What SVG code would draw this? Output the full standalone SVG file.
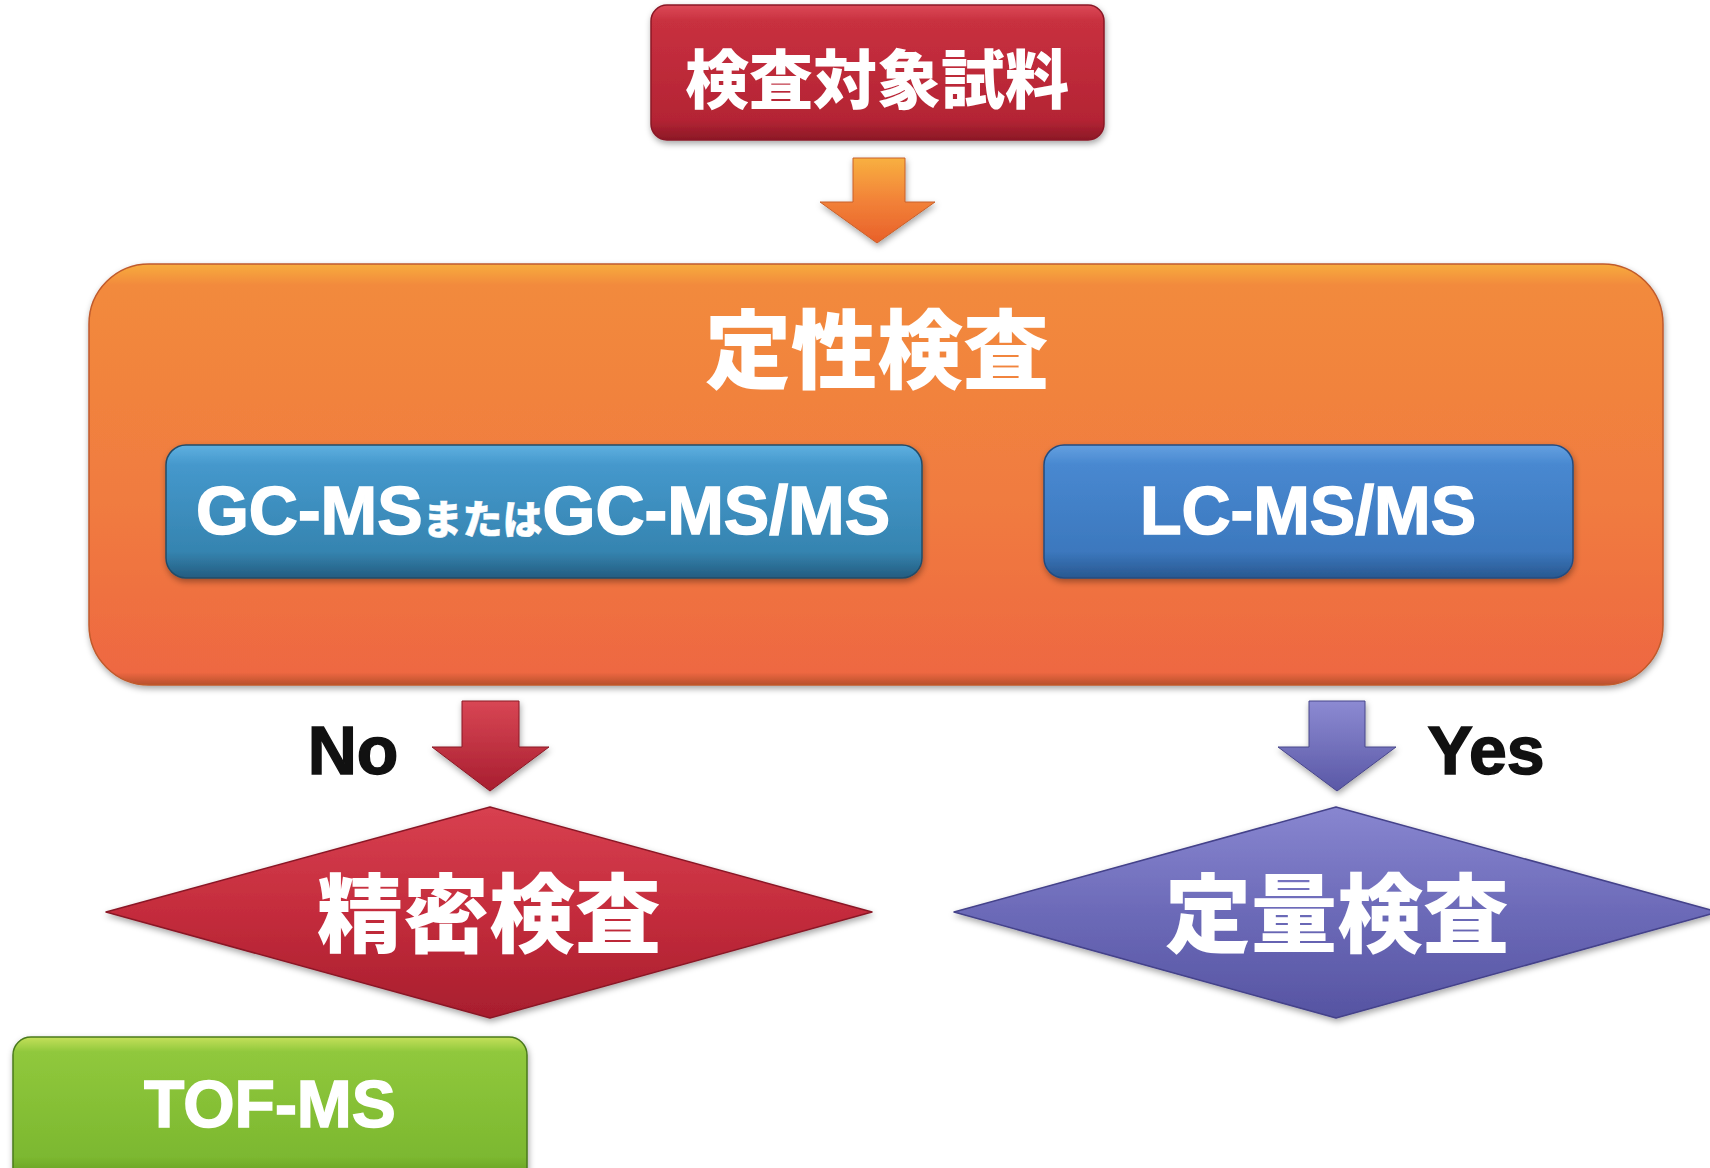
<svg xmlns="http://www.w3.org/2000/svg" width="1710" height="1168" viewBox="0 0 1710 1168">
<defs>
<style>
.jp{font-family:"Noto Sans CJK JP","Noto Sans CJK SC",sans-serif;font-weight:900;fill:#ffffff;text-anchor:middle;dominant-baseline:central}
.en{font-family:"Liberation Sans",Arial,sans-serif;font-weight:bold;fill:#ffffff;stroke:#ffffff;stroke-width:1.5;text-anchor:middle}
.lbl{font-family:"Liberation Sans",Arial,sans-serif;font-weight:bold;fill:#111111;stroke:#111111;stroke-width:1.5;text-anchor:middle;font-size:68px}
.sh{filter:url(#shadow)}
</style>
<filter id="shadow" x="-10%" y="-10%" width="120%" height="130%">
<feDropShadow dx="1" dy="3" stdDeviation="3" flood-color="#000" flood-opacity="0.35"/>
</filter>
<linearGradient id="gRed" x1="0" y1="0" x2="0" y2="1">
<stop offset="0" stop-color="#dc4a58"/><stop offset="0.12" stop-color="#c8303f"/><stop offset="0.85" stop-color="#b42434"/><stop offset="1" stop-color="#8c1826"/>
</linearGradient>
<linearGradient id="gOrange" x1="0" y1="0" x2="0" y2="1">
<stop offset="0" stop-color="#f7ac3c"/><stop offset="0.05" stop-color="#f28a3c"/><stop offset="0.6" stop-color="#f07a40"/><stop offset="0.97" stop-color="#ee6842"/><stop offset="1" stop-color="#b8502c"/>
</linearGradient>
<linearGradient id="gGC" x1="0" y1="0" x2="0" y2="1">
<stop offset="0" stop-color="#5fb0e0"/><stop offset="0.15" stop-color="#4598cc"/><stop offset="0.8" stop-color="#3584b0"/><stop offset="1" stop-color="#245c80"/>
</linearGradient>
<linearGradient id="gLC" x1="0" y1="0" x2="0" y2="1">
<stop offset="0" stop-color="#64a0e0"/><stop offset="0.15" stop-color="#4888d0"/><stop offset="0.8" stop-color="#3c78be"/><stop offset="1" stop-color="#285890"/>
</linearGradient>
<linearGradient id="gGreen" x1="0" y1="0" x2="0" y2="1">
<stop offset="0" stop-color="#c4e05a"/><stop offset="0.1" stop-color="#90c83c"/><stop offset="0.8" stop-color="#7cb830"/><stop offset="1" stop-color="#5a9020"/>
</linearGradient>
<linearGradient id="gRedD" x1="0" y1="0" x2="0" y2="1">
<stop offset="0" stop-color="#d84050"/><stop offset="0.5" stop-color="#c42c3c"/><stop offset="1" stop-color="#a81e2e"/>
</linearGradient>
<linearGradient id="gPurD" x1="0" y1="0" x2="0" y2="1">
<stop offset="0" stop-color="#8886d0"/><stop offset="0.5" stop-color="#6c6ab8"/><stop offset="1" stop-color="#5654a2"/>
</linearGradient>
<linearGradient id="aOrange" x1="0" y1="0" x2="0" y2="1">
<stop offset="0" stop-color="#f8b040"/><stop offset="0.5" stop-color="#f28238"/><stop offset="1" stop-color="#e8602a"/>
</linearGradient>
<linearGradient id="aRed" x1="0" y1="0" x2="0" y2="1">
<stop offset="0" stop-color="#d84654"/><stop offset="1" stop-color="#a81e30"/>
</linearGradient>
<linearGradient id="aPur" x1="0" y1="0" x2="0" y2="1">
<stop offset="0" stop-color="#8c8ad2"/><stop offset="1" stop-color="#5a58a6"/>
</linearGradient>
</defs>
<rect width="1710" height="1168" fill="#ffffff"/>

<g id="connectors">
<polygon class="sh" points="853,158 905,158 905,202 935,202 877,243 820,202 853,202" fill="url(#aOrange)" stroke="#c8602a" stroke-width="1"/>
<polygon class="sh" points="462,701 519,701 519,747 549,747 490,791 432,747 462,747" fill="url(#aRed)" stroke="#8a1a26" stroke-width="1"/>
<polygon class="sh" points="1309,701 1365,701 1365,747 1396,747 1337,791 1278,747 1309,747" fill="url(#aPur)" stroke="#48468a" stroke-width="1"/>
<text class="lbl" x="353" y="774">No</text>
<text class="lbl" x="1486" y="774">Yes</text>
</g>

<g id="node-sample">
<rect class="sh" x="651" y="5" width="453" height="135" rx="16" fill="url(#gRed)" stroke="#8a1826" stroke-width="1.5"/>
<text class="jp" x="877" y="75" font-size="64">検査対象試料</text>
</g>

<g id="node-qualitative">
<rect class="sh" x="89" y="264" width="1574" height="421" rx="60" fill="url(#gOrange)" stroke="#c05a2c" stroke-width="1.5"/>
<text class="jp" x="877" y="344" font-size="86">定性検査</text>
</g>

<g id="node-gcms">
<rect class="sh" x="166" y="445" width="756" height="133" rx="20" fill="url(#gGC)" stroke="#234c68" stroke-width="1.5"/>
<text class="en" x="543" y="534" font-size="68">GC-MS<tspan font-family="'Noto Sans CJK JP','Noto Sans CJK SC',sans-serif" font-weight="900" font-size="40" stroke-width="0.5">または</tspan>GC-MS/MS</text>
</g>

<g id="node-lcms">
<rect class="sh" x="1044" y="445" width="529" height="133" rx="20" fill="url(#gLC)" stroke="#244c80" stroke-width="1.5"/>
<text class="en" x="1308" y="534" font-size="68">LC-MS/MS</text>
</g>

<g id="node-precise">
<polygon class="sh" points="490,807 872,912 490,1018 106,912" fill="url(#gRedD)" stroke="#8a1826" stroke-width="1.5" stroke-linejoin="round"/>
<text class="jp" x="489" y="908" font-size="86">精密検査</text>
</g>

<g id="node-quantitative">
<polygon class="sh" points="1336,807 1718,912 1336,1018 954,912" fill="url(#gPurD)" stroke="#44428a" stroke-width="1.5" stroke-linejoin="round"/>
<text class="jp" x="1337" y="908" font-size="86">定量検査</text>
</g>

<g id="node-tofms">
<rect class="sh" x="13" y="1037" width="514" height="150" rx="18" fill="url(#gGreen)" stroke="#4a7a1c" stroke-width="1.5"/>
<text class="en" x="270" y="1127" font-size="66">TOF-MS</text>
</g>
</svg>
